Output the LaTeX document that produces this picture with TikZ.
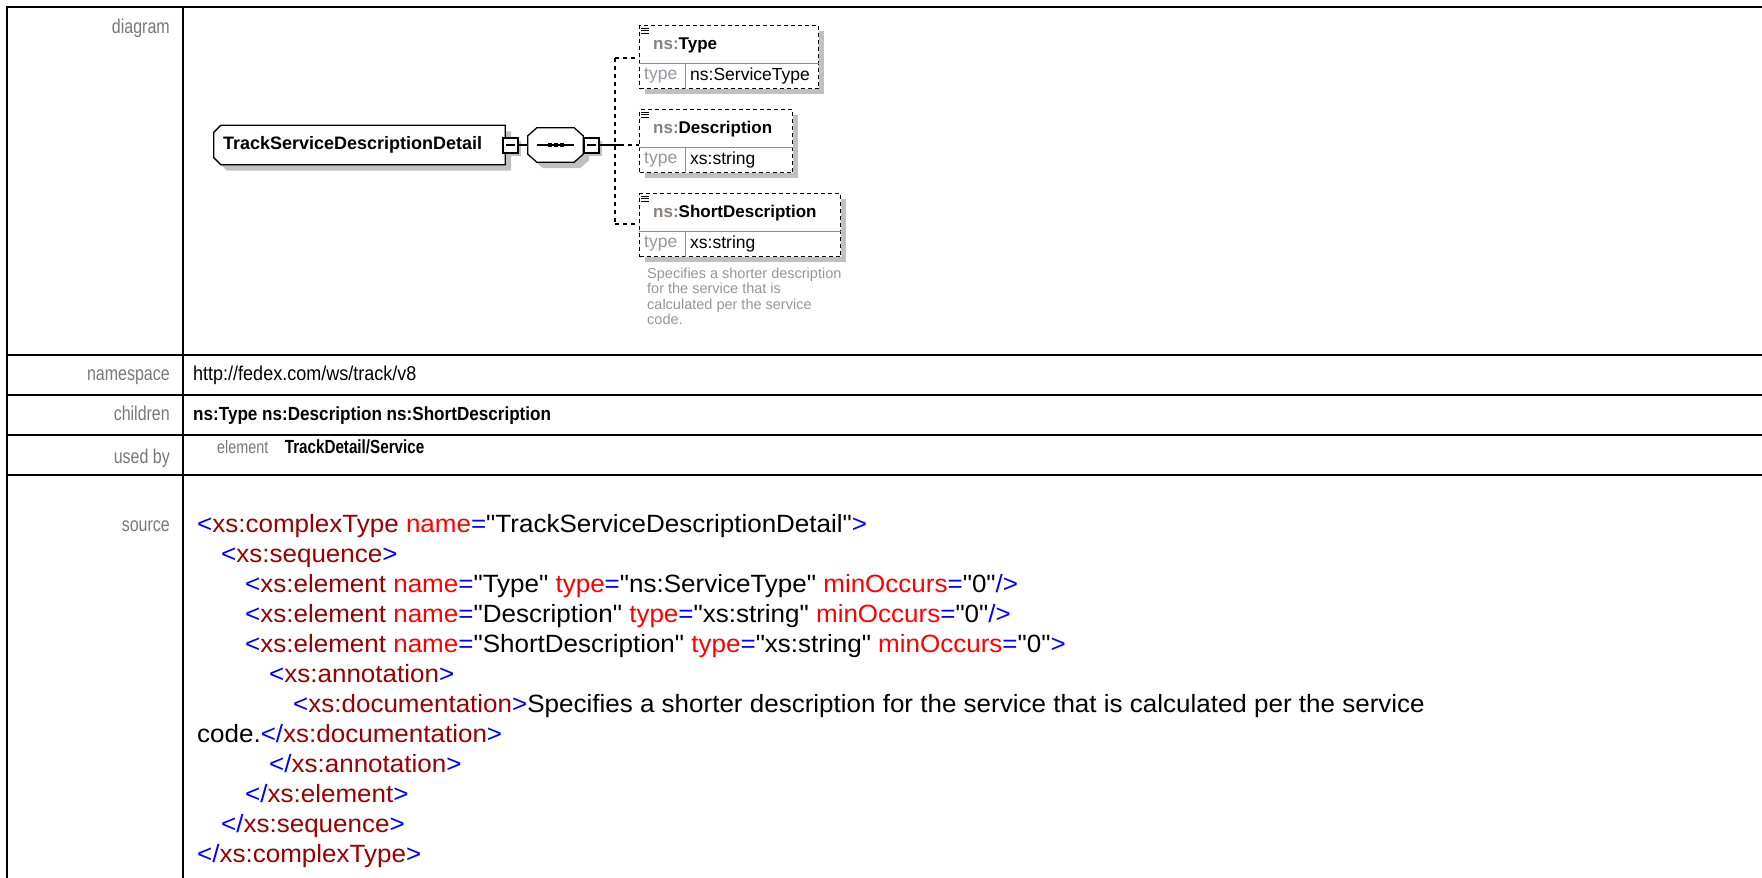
\documentclass[tikz,border=0pt]{standalone}
\usepackage{fontspec}
\setmainfont{Liberation Sans}
\newfontfamily\tablefont[FakeStretch=0.8]{Liberation Sans}
\newfontfamily\valuefont[FakeStretch=0.9]{Liberation Sans}
\newfontfamily\srcfont[FakeStretch=1.04]{Liberation Sans}
\usetikzlibrary{positioning,shadows}

\definecolor{labelgrey}{RGB}{120,120,120}
\definecolor{prefixgrey}{RGB}{135,130,125}
\definecolor{typegrey}{RGB}{150,150,165}
\definecolor{notegrey}{RGB}{150,150,150}
\definecolor{shadowgrey}{RGB}{192,192,192}
\definecolor{sepgrey}{RGB}{140,140,140}
\definecolor{xmlblue}{RGB}{0,0,255}
\definecolor{xmltag}{RGB}{153,0,0}
\definecolor{xmlatt}{RGB}{255,0,0}

% xml source snippets
\newcommand{\xo}[1]{\textcolor{xmlblue}{<}\textcolor{xmltag}{#1}}
\newcommand{\xc}[1]{\textcolor{xmlblue}{</}\textcolor{xmltag}{#1}\textcolor{xmlblue}{>}}
\newcommand{\xa}[2]{ \textcolor{xmlatt}{#1}\textcolor{xmlblue}{=}"#2"}
\newcommand{\xgt}{\textcolor{xmlblue}{>}}
\newcommand{\xsl}{\textcolor{xmlblue}{/>}}

\tikzstyle{grid} = [line width=2.5pt]
\tikzstyle{rowlabel} = [anchor=east, inner sep=0pt, text height=14pt, text depth=4pt, text=labelgrey, font=\tablefont\fontsize{20}{24}\selectfont]
\tikzstyle{rowvalue} = [anchor=west, inner sep=0pt, text height=14pt, text depth=4pt, font=\valuefont\fontsize{20}{24}\selectfont]
\tikzstyle{srcline} = [anchor=west, inner sep=0pt, text height=18pt, text depth=5pt, font=\srcfont\fontsize{25}{27}\selectfont]
\tikzstyle{frame} = [minimum width=55pt, minimum height=34pt, inner sep=0pt]
\tikzstyle{outline} = [draw, line width=1.3pt, fill=white]
\tikzstyle{shadowfill} = [fill=shadowgrey, transform canvas={xshift=6pt,yshift=-6pt}]
\tikzstyle{minusbox} = [draw, line width=2pt, fill=white, minimum size=15pt, inner sep=0pt, drop shadow={shadow xshift=3pt, shadow yshift=-3pt, opacity=1, fill=shadowgrey}, path picture={\draw[line width=1.2pt] ([xshift=3pt]path picture bounding box.west) -- ([xshift=-3pt]path picture bounding box.east);}]
\tikzstyle{child} = [draw, line width=1.3pt, dash pattern=on 4pt off 3pt, fill=white, drop shadow={shadow xshift=5pt, shadow yshift=-5pt, opacity=1, fill=shadowgrey}, anchor=north west, inner sep=0pt, minimum height=63pt]
\tikzstyle{childname} = [anchor=west, inner sep=0pt, font=\fontsize{17}{20}\selectfont\bfseries]
\tikzstyle{childtype} = [anchor=west, inner sep=0pt, font=\fontsize{17.5}{20}\selectfont]
\tikzstyle{sepline} = [draw=sepgrey, line width=1pt]
\tikzstyle{dashlink} = [line width=1.3pt, dash pattern=on 4pt off 4pt]

\begin{document}
\begin{tikzpicture}[x=1pt,y=-1pt]
\useasboundingbox (0,0) rectangle (1762,878);

% table lines
\draw[grid] (7,878) -- (7,7) -- (1762,7);
\draw[grid] (183,7) -- (183,878);
\foreach \y in {355,395,435,475}
  \draw[grid] (7,\y) -- (1762,\y);

% row labels
\node (diagramlbl) [rowlabel] at (170,28) {diagram};
\node (nslbl) [rowlabel] at (170,375) {namespace};
\node (childlbl) [rowlabel] at (170,415) {children};
\node (usedlbl) [rowlabel] at (170,458) {used by};
\node (srclbl) [rowlabel] at (170,526) {source};

% row values
\node (nsval) [rowvalue] at (193,375) {http://fedex.com/ws/track/v8};
\node (childval) [rowvalue, font=\valuefont\fontsize{19}{24}\selectfont\bfseries] at (193,415) {ns:Type ns:Description ns:ShortDescription};
\node (usedkind) [rowvalue, text=labelgrey, font=\tablefont\fontsize{18}{24}\selectfont] at (217,448) {element};
\node (usedval) [rowvalue, right=16pt of usedkind, font=\tablefont\fontsize{19}{24}\selectfont\bfseries] {TrackDetail/Service};

% source listing
\node (src1) [srcline] at (197,526) {\xo{xs:complexType}\xa{name}{TrackServiceDescriptionDetail}\xgt};
\node (src2) [srcline] at (221,556) {\xo{xs:sequence}\xgt};
\node (src3) [srcline] at (245,586) {\xo{xs:element}\xa{name}{Type}\xa{type}{ns:ServiceType}\xa{minOccurs}{0}\xsl};
\node (src4) [srcline] at (245,616) {\xo{xs:element}\xa{name}{Description}\xa{type}{xs:string}\xa{minOccurs}{0}\xsl};
\node (src5) [srcline] at (245,646) {\xo{xs:element}\xa{name}{ShortDescription}\xa{type}{xs:string}\xa{minOccurs}{0}\xgt};
\node (src6) [srcline] at (269,676) {\xo{xs:annotation}\xgt};
\node (src7) [srcline] at (293,706) {\xo{xs:documentation}\xgt Specifies a shorter description for the service that is calculated per the service};
\node (src8) [srcline] at (197,736) {code.\xc{xs:documentation}};
\node (src9) [srcline] at (269,766) {\xc{xs:annotation}};
\node (src10) [srcline] at (245,796) {\xc{xs:element}};
\node (src11) [srcline] at (221,826) {\xc{xs:sequence}};
\node (src12) [srcline] at (197,856) {\xc{xs:complexType}};

% diagram: root type and sequence
\node (root) [frame, minimum width=291pt, minimum height=39pt] at (359.5,145) {};
\node (seq) [frame] at (555.5,145) {};
\path[shadowfill] ([xshift=7pt]root.north west) -- (root.north east) -- (root.south east)
  -- ([xshift=7pt]root.south west) -- ([yshift=7pt]root.south west) -- ([yshift=-7pt]root.north west) -- cycle;
\path[shadowfill] ([xshift=9pt]seq.north west) -- ([xshift=-9pt]seq.north east) -- ([yshift=-8pt]seq.north east)
  -- ([yshift=8pt]seq.south east) -- ([xshift=-9pt]seq.south east) -- ([xshift=9pt]seq.south west)
  -- ([yshift=8pt]seq.south west) -- ([yshift=-8pt]seq.north west) -- cycle;
\draw[outline] ([xshift=7pt]root.north west) -- (root.north east) -- (root.south east)
  -- ([xshift=7pt]root.south west) -- ([yshift=7pt]root.south west) -- ([yshift=-7pt]root.north west) -- cycle;
\draw[outline] ([xshift=9pt]seq.north west) -- ([xshift=-9pt]seq.north east) -- ([yshift=-8pt]seq.north east)
  -- ([yshift=8pt]seq.south east) -- ([xshift=-9pt]seq.south east) -- ([xshift=9pt]seq.south west)
  -- ([yshift=8pt]seq.south west) -- ([yshift=-8pt]seq.north west) -- cycle;
\node (rootname) [right=9pt of root.west, anchor=west, inner sep=0pt, font=\fontsize{18}{20}\selectfont\bfseries] {TrackServiceDescriptionDetail};
\node (rootminus) [minusbox, right=-3pt of root.east] {};
\node (seqminus) [minusbox, right=0pt of seq] {};
\draw[line width=1.2pt] (rootminus.east) -- (seq.west);
\draw[line width=1.2pt] ([xshift=9pt]seq.west) -- ([xshift=-9pt]seq.east);
\foreach \dx in {-6,0,6}
  \fill ([xshift=\dx pt]seq.center) +(-2,-2) rectangle +(2,2);

% children
\node (typechild) [child, minimum width=179pt] at (639,25) {};
\node (descchild) [child, minimum width=153pt] at (639,109) {};
\node (shortchild) [child, minimum width=201pt] at (639,193) {};
\foreach \c in {typechild,descchild,shortchild} {
  \draw[sepline] ([yshift=-38pt]\c.north west) -- ([yshift=-38pt]\c.north east);
  \draw[sepline] ([xshift=46pt,yshift=-38pt]\c.north west) -- ([xshift=46pt]\c.south west);
  \foreach \k in {0,2.5,5}
    \draw[line width=0.9pt] ([xshift=2pt,yshift=-3pt-\k pt]\c.north west) -- ++(8,0);
}
\node (typename) [childname] at (653,45) {\textcolor{prefixgrey}{ns:}Type};
\node (typelbl) [childtype, text=typegrey] at (644,76) {type};
\node (typeval) [childtype] at (690,76) {ns:ServiceType};
\node (descname) [childname] at (653,129) {\textcolor{prefixgrey}{ns:}Description};
\node (desclbl) [childtype, text=typegrey] at (644,160) {type};
\node (descval) [childtype] at (690,160) {xs:string};
\node (shortname) [childname] at (653,213) {\textcolor{prefixgrey}{ns:}ShortDescription};
\node (shortlbl) [childtype, text=typegrey] at (644,244) {type};
\node (shortval) [childtype] at (690,244) {xs:string};
\node (shortnote) [anchor=north west, inner sep=0pt, align=left, text=notegrey, font=\fontsize{14.5}{15.2}\selectfont] at (647,268) {Specifies a shorter description\\for the service that is\\calculated per the service\\code.};

% connectors
\coordinate (bustop) at (615,58);
\coordinate (busmid) at (615,145);
\coordinate (busbot) at (615,224);
\draw[dashlink] (bustop) -- (busbot);
\draw[line width=1.2pt] (seqminus.east) -- ([xshift=5pt]busmid);
\draw[dashlink] (bustop) -- (bustop -| typechild.west);
\draw[dashlink] ([xshift=5pt]busmid) -- (busmid -| descchild.west);
\draw[dashlink] (busbot) -- (busbot -| shortchild.west);
\end{tikzpicture}
\end{document}
